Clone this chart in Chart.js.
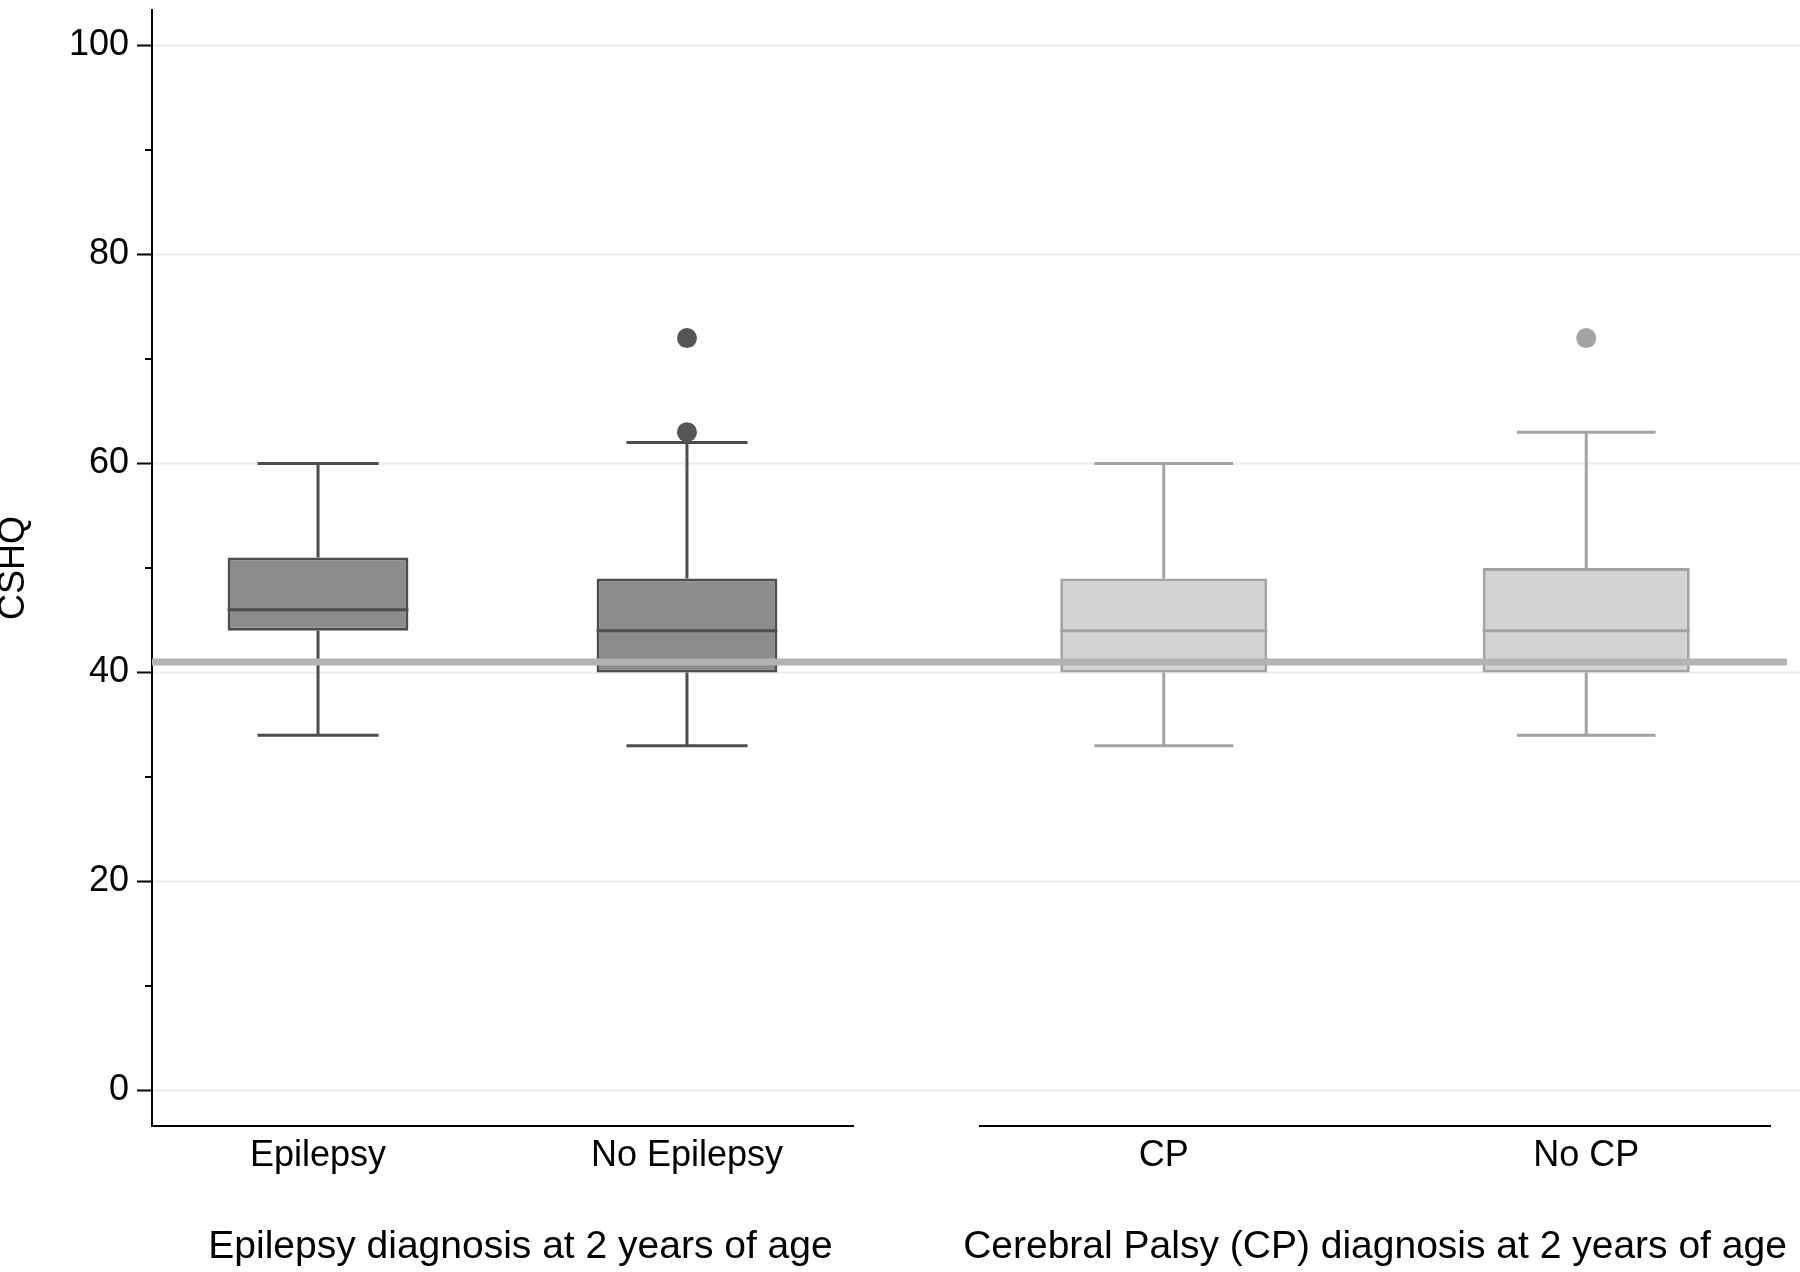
<!DOCTYPE html>
<html>
<head>
<meta charset="utf-8">
<script src="https://cdn.jsdelivr.net/npm/chart.js@4.4.1/dist/chart.umd.min.js"></script>
<style>
  html, body { margin: 0; padding: 0; background: #fff; }
  #wrap { position: relative; width: 1800px; height: 1272px; }
  #wrap canvas { position: absolute; left: 0; top: 0; }
</style>
</head>
<body>
<div id="wrap">
  <canvas id="epilepsyChart" width="1800" height="1272"></canvas>
  <canvas id="cpChart" width="1800" height="1272"></canvas>
</div>
<script>
// CSHQ scores by diagnosis at 2 years of age
const groups = ["Epilepsy", "No Epilepsy", "CP", "No CP"];
const groupPos = [1, 2, 1, 2];
const whiskerLow = [34, 33, 33, 34];
const q1 = [44, 40, 40, 40];
const median = [46, 44, 44, 44];
const q3 = [51, 49, 49, 50];
const whiskerHigh = [60, 62, 60, 63];
const outliers = [[], [63, 72], [], [72]];
const referenceValue = 41;
const yTickValues = [0, 10, 20, 30, 40, 50, 60, 70, 80, 90, 100];
const panelTitles = ["Epilepsy diagnosis at 2 years of age", "Cerebral Palsy (CP) diagnosis at 2 years of age"];

const FONT = "'Liberation Sans', Arial, Helvetica, sans-serif";
Chart.defaults.font.family = FONT;
Chart.defaults.color = "#000";

const isMajor = (v) => v % 20 === 0;

// whiskers, caps, medians and the reference line
const boxParts = {
  id: "boxParts",
  beforeDatasetsDraw(chart, args, opts) {
    const { ctx } = chart;
    const x = chart.scales.x, y = chart.scales.y;
    const bars = chart.getDatasetMeta(0).data;
    ctx.save();
    ctx.strokeStyle = opts.color;
    ctx.lineWidth = 3;
    opts.idx.forEach((g, i) => {
      const px = x.getPixelForValue(groupPos[g]);
      const cap = bars[i].width * 0.335;
      [[q3[g], whiskerHigh[g]], [q1[g], whiskerLow[g]]].forEach(([from, to]) => {
        const yTo = y.getPixelForValue(to);
        ctx.beginPath();
        ctx.moveTo(px, y.getPixelForValue(from));
        ctx.lineTo(px, yTo);
        ctx.moveTo(px - cap, yTo);
        ctx.lineTo(px + cap, yTo);
        ctx.stroke();
      });
    });
    ctx.restore();
  },
  afterDatasetsDraw(chart, args, opts) {
    const { ctx } = chart;
    const y = chart.scales.y;
    const bars = chart.getDatasetMeta(0).data;
    ctx.save();
    ctx.strokeStyle = opts.color;
    ctx.lineWidth = 3;
    opts.idx.forEach((g, i) => {
      const b = bars[i];
      const py = y.getPixelForValue(median[g]);
      ctx.beginPath();
      ctx.moveTo(b.x - b.width / 2, py);
      ctx.lineTo(b.x + b.width / 2, py);
      ctx.stroke();
    });
    if (opts.refFrom != null) {
      const py = y.getPixelForValue(referenceValue);
      ctx.strokeStyle = "#b3b3b3";
      ctx.lineWidth = 7;
      ctx.beginPath();
      ctx.moveTo(opts.refFrom, py);
      ctx.lineTo(chart.width - 13, py);
      ctx.stroke();
    }
    ctx.restore();
  }
};

// full-width horizontal grid and the short minor ticks on the y axis
const gridAcross = {
  id: "gridAcross",
  beforeDatasetsDraw(chart, args, opts) {
    if (!opts.on) return;
    const { ctx, chartArea } = chart;
    const y = chart.scales.y;
    ctx.save();
    ctx.strokeStyle = "#ebebeb";
    ctx.lineWidth = 2;
    yTickValues.filter(isMajor).forEach(v => {
      const py = y.getPixelForValue(v);
      ctx.beginPath();
      ctx.moveTo(chartArea.left + 1, py);
      ctx.lineTo(chart.width, py);
      ctx.stroke();
    });
    ctx.strokeStyle = "#000";
    yTickValues.filter(v => !isMajor(v)).forEach(v => {
      const py = y.getPixelForValue(v);
      ctx.beginPath();
      ctx.moveTo(chartArea.left - 7, py);
      ctx.lineTo(chartArea.left, py);
      ctx.stroke();
    });
    ctx.restore();
  }
};

const panelTitle = {
  id: "panelTitle",
  afterDraw(chart, args, opts) {
    const { ctx, chartArea } = chart;
    ctx.save();
    ctx.font = "39px " + FONT;
    ctx.fillStyle = "#000";
    ctx.textAlign = "center";
    ctx.textBaseline = "alphabetic";
    ctx.fillText(opts.text, (chartArea.left + chartArea.right) / 2 + opts.shift, chart.height - 14);
    ctx.restore();
  }
};

function buildPanel(canvasId, idx, look) {
  const boxes = idx.map(g => ({ x: groupPos[g], y: [q1[g], q3[g]] }));
  const dots = idx.flatMap(g => outliers[g].map(v => ({ x: groupPos[g], y: v })));
  return new Chart(document.getElementById(canvasId), {
    type: "bar",
    data: {
      datasets: [{
        data: boxes,
        backgroundColor: look.fill,
        borderColor: look.line,
        borderWidth: 3,
        borderSkipped: false,
        barPercentage: 0.49,
        categoryPercentage: 1
      }, {
        type: "scatter",
        data: dots,
        backgroundColor: look.dot,
        borderWidth: 0,
        pointRadius: 10
      }]
    },
    options: {
      responsive: false,
      devicePixelRatio: 1,
      animation: false,
      layout: { padding: look.padding },
      scales: {
        x: {
          type: "linear",
          offset: false,
          min: look.xRange[0],
          max: look.xRange[1],
          afterBuildTicks: (s) => { s.ticks = idx.map(g => ({ value: groupPos[g] })); },
          afterFit: (s) => { s.height = 146; s.paddingLeft = 0; s.paddingRight = 0; },
          grid: { display: false, drawTicks: false, offset: false },
          border: { display: true, color: "#000", width: 2 },
          ticks: {
            padding: 8,
            maxRotation: 0,
            font: { size: 36 },
            color: "#000",
            callback: (v) => groups[idx[Math.round(v) - 1]]
          }
        },
        y: {
          display: look.showY,
          min: -3.4,
          max: 103.4,
          afterBuildTicks: (s) => { s.ticks = yTickValues.map(v => ({ value: v })); },
          afterFit: (s) => {
            if (look.showY) s.width = 152;
            s.paddingTop = 0;
            s.paddingBottom = 0;
          },
          grid: {
            drawOnChartArea: false,
            drawTicks: true,
            tickLength: 15,
            tickWidth: 2,
            tickColor: (c) => isMajor(c.tick.value) ? "#000" : "rgba(0,0,0,0)"
          },
          border: { display: true, color: "#000", width: 2 },
          ticks: {
            padding: 8,
            font: { size: 36 },
            color: "#000",
            callback: (v) => isMajor(v) ? String(v) : ""
          },
          title: {
            display: true,
            text: "CSHQ",
            font: { size: 36, lineHeight: 0.8 },
            padding: 0,
            color: "#000"
          }
        }
      },
      plugins: {
        legend: { display: false },
        tooltip: { enabled: false },
        boxParts: { idx: idx, color: look.line, refFrom: look.refFrom },
        gridAcross: { on: look.showY },
        panelTitle: { text: look.title, shift: look.titleShift }
      }
    },
    plugins: [gridAcross, boxParts, panelTitle]
  });
}

const leftChart = buildPanel("epilepsyChart", [0, 1], {
  fill: "#8c8c8c", line: "#4d4d4d", dot: "#555555",
  padding: { top: 6, right: 947, left: 0, bottom: 0 },
  xRange: [0.55, 2.45], showY: true, refFrom: null,
  title: panelTitles[0], titleShift: 18
});

const rightChart = buildPanel("cpChart", [2, 3], {
  fill: "#d3d3d3", line: "#a3a3a3", dot: "#a3a3a3",
  padding: { top: 6, right: 30, left: 980, bottom: 0 },
  xRange: [0.565, 2.435], showY: false, refFrom: leftChart.chartArea.left,
  title: panelTitles[1], titleShift: 0
});
</script>
</body>
</html>
